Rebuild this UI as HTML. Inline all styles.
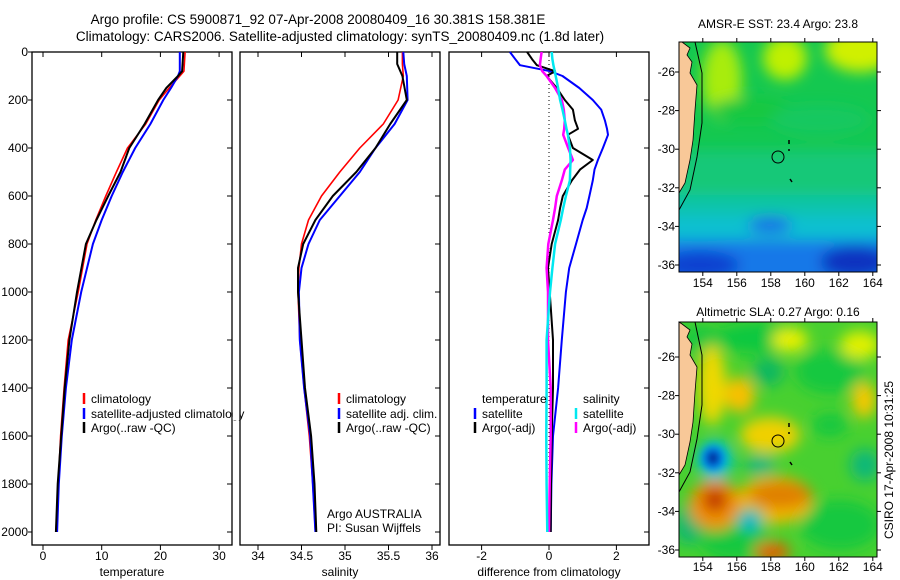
<!DOCTYPE html>
<html><head><meta charset="utf-8"><style>
html,body{margin:0;padding:0;background:#fff;}
svg{display:block;font-family:"Liberation Sans",sans-serif;}
</style></head><body>
<svg id="fig" width="900" height="580" viewBox="0 0 900 580">
<defs>
<filter id="blur6" x="-50%" y="-50%" width="200%" height="200%"><feGaussianBlur stdDeviation="7"/></filter>
<filter id="blur4" x="-50%" y="-50%" width="200%" height="200%"><feGaussianBlur stdDeviation="4"/></filter>
<clipPath id="clipMap1"><rect x="679" y="42" width="198" height="230"/></clipPath>
<clipPath id="clipMap2"><rect x="679" y="322" width="198" height="235"/></clipPath>
</defs>
<text x="318" y="24" font-size="13.5" text-anchor="middle">Argo profile: CS 5900871_92 07-Apr-2008 20080409_16 30.381S 158.381E</text>
<text x="340" y="41" font-size="13.5" text-anchor="middle">Climatology: CARS2006. Satellite-adjusted climatology: synTS_20080409.nc (1.8d later)</text>
<g id="panels"></g>

<!-- SST map -->
<g>
<text x="778" y="28" font-size="12" text-anchor="middle">AMSR-E SST: 23.4 Argo: 23.8</text>
<g clip-path="url(#clipMap1)">
<rect x="660" y="20" width="240" height="270" fill="#14c850"/>
<g filter="url(#blur6)">
<rect x="650" y="150" width="260" height="150" fill="#14c878"/>
<rect x="650" y="195" width="260" height="110" fill="#10c4a8"/>
<rect x="650" y="215" width="260" height="90" fill="#08c0d0"/>
<rect x="650" y="240" width="260" height="60" fill="#1878e8"/>
<ellipse cx="700" cy="265" rx="40" ry="14" fill="#0a40d0"/>
<ellipse cx="855" cy="262" rx="35" ry="16" fill="#0a30c0"/>
<ellipse cx="770" cy="225" rx="22" ry="8" fill="#1a6ce8"/>
<ellipse cx="722" cy="80" rx="20" ry="40" fill="#a8ec10"/>
<ellipse cx="785" cy="58" rx="22" ry="22" fill="#c0f000"/>
<ellipse cx="860" cy="50" rx="35" ry="22" fill="#d0f000"/>
<ellipse cx="750" cy="110" rx="40" ry="12" fill="#18c840"/>
<ellipse cx="820" cy="120" rx="50" ry="15" fill="#14c860"/>
</g>
</g>
<path d="M679,42 L682,42 L690,48 L687,55 L692,62 L690,73 L697,85 L695,110 L693,140 L690,160 L685,183 L679,193 Z" fill="#f8c898" stroke="#000" stroke-width="0.8"/>
<path d="M695,42 L702,73 L702,123 L697,157 L690,190 L679,210" fill="none" stroke="#000" stroke-width="1"/>
<circle cx="778" cy="157" r="6" fill="none" stroke="#000" stroke-width="1"/>
<path d="M789,140 l0,4 M789,149 l0,2 M790,179 l2,3" stroke="#000" stroke-width="1.5"/>
<rect x="679" y="42" width="198" height="230" fill="none" stroke="#000"/>
<g id="map1axes"></g>
</g>

<!-- SLA map -->
<g>
<text x="778" y="316" font-size="12" text-anchor="middle">Altimetric SLA: 0.27 Argo: 0.16</text>
<g clip-path="url(#clipMap2)">
<rect x="660" y="300" width="240" height="280" fill="#48d030"/>
<g filter="url(#blur6)">
<ellipse cx="760" cy="338" rx="45" ry="16" fill="#10c840"/>
<ellipse cx="768" cy="372" rx="16" ry="14" fill="#10b860"/>
<ellipse cx="830" cy="372" rx="35" ry="22" fill="#14c840"/>
<ellipse cx="830" cy="425" rx="18" ry="12" fill="#18c840"/>
<ellipse cx="865" cy="465" rx="15" ry="16" fill="#10b878"/>
<ellipse cx="840" cy="525" rx="40" ry="25" fill="#18c840"/>
<ellipse cx="735" cy="540" rx="35" ry="20" fill="#18c840"/>
<ellipse cx="688" cy="525" rx="14" ry="20" fill="#10b870"/>
<ellipse cx="700" cy="340" rx="20" ry="14" fill="#18c840"/>
<ellipse cx="790" cy="340" rx="18" ry="12" fill="#e8f000"/>
<ellipse cx="860" cy="345" rx="20" ry="14" fill="#e0f000"/>
<ellipse cx="712" cy="385" rx="14" ry="40" fill="#f0d800"/>
<ellipse cx="740" cy="395" rx="15" ry="18" fill="#f8c000"/>
<ellipse cx="770" cy="435" rx="30" ry="18" fill="#f0d000"/>
<ellipse cx="864" cy="400" rx="12" ry="18" fill="#f8c800"/>
<ellipse cx="775" cy="500" rx="38" ry="24" fill="#f0b800"/>
<ellipse cx="715" cy="505" rx="26" ry="25" fill="#f09000"/>
<ellipse cx="715" cy="500" rx="12" ry="12" fill="#c03000"/>
<ellipse cx="780" cy="495" rx="32" ry="14" fill="#e08000"/>
<ellipse cx="772" cy="552" rx="18" ry="10" fill="#e06000"/>
<ellipse cx="750" cy="520" rx="14" ry="12" fill="#10c8a0"/>
<ellipse cx="750" cy="522" rx="6" ry="6" fill="#00a0e8"/>
<ellipse cx="760" cy="465" rx="15" ry="10" fill="#10b880"/>
<ellipse cx="715" cy="460" rx="18" ry="20" fill="#00c0d0"/>
</g>
<g filter="url(#blur4)">
<ellipse cx="713" cy="458" rx="11" ry="12" fill="#0080f0"/>
<ellipse cx="713" cy="458" rx="6" ry="7" fill="#001890"/>
</g>
</g>
<g transform="translate(0,282)">
<path d="M679,40 L682,42 L690,48 L687,55 L692,62 L690,73 L697,85 L695,110 L693,140 L690,160 L685,183 L679,193 Z" fill="#f8c898" stroke="#000" stroke-width="0.8"/>
<path d="M695,40 L702,73 L702,123 L697,157 L690,190 L679,210" fill="none" stroke="#000" stroke-width="1"/>
</g>
<circle cx="778" cy="441" r="6" fill="none" stroke="#000" stroke-width="1"/>
<path d="M789,423 l0,4 M789,432 l0,2 M790,462 l2,3" stroke="#000" stroke-width="1.5"/>
<rect x="679" y="322" width="198" height="235" fill="none" stroke="#000"/>
<g id="map2axes"></g>
</g>
<text x="0" y="0" font-size="12" text-anchor="middle" transform="translate(893,460) rotate(-90)">CSIRO 17-Apr-2008 10:31:25</text>
</svg>
<script>
// ---- Data ----
var depthTicks = [0,200,400,600,800,1000,1200,1400,1600,1800,2000];
var tempTicks = [0,10,20,30];
var salTicks = [34,34.5,35,35.5,36];
var salTickLabels = ["34","34.5","35","35.5","36"];
var diffTicks = [-2,0,2];

var tDepth = [0,80,100,150,200,300,400,500,600,700,800,1000,1200,1400,1600,1800,2000];
var tClim  = [24.2,24.0,23.3,21.5,19.8,17.5,14.4,12.5,10.7,9.0,7.5,6.0,4.3,3.6,3.0,2.6,2.2];
var tSat   = [23.3,23.3,23.0,21.8,20.5,18.3,15.7,13.6,11.7,10.0,8.5,6.5,4.9,3.9,3.2,2.7,2.4];
var tArgo  = [23.9,23.7,23.0,21.0,19.6,17.3,14.7,13.2,11.1,9.1,7.3,5.8,4.5,3.7,3.1,2.5,2.2];

var sDepth = [0,50,100,200,300,400,500,600,700,800,900,1000,1200,1400,1600,1800,2000];
var sClim  = [35.66,35.66,35.67,35.61,35.44,35.17,34.94,34.73,34.58,34.50,34.47,34.46,34.48,34.53,34.59,34.63,34.66];
var sSat   = [35.67,35.68,35.71,35.72,35.57,35.35,35.17,34.94,34.71,34.58,34.50,34.47,34.48,34.53,34.60,34.63,34.66];
var sArgo  = [35.60,35.60,35.66,35.71,35.52,35.35,35.13,34.86,34.66,34.52,34.46,34.46,34.50,34.54,34.61,34.65,34.67];

var dDepth = [0,30,55,80,100,150,200,240,285,320,345,400,450,490,535,600,650,700,800,900,1000,1200,1400,1600,1800,2000];
var tSatD  = [-1.16,-1.0,-0.86,0.03,0.4,0.9,1.3,1.55,1.66,1.72,1.75,1.6,1.45,1.35,1.3,1.2,1.12,1.0,0.8,0.6,0.5,0.38,0.27,0.12,0.07,0.05];
var tArgoD = [-0.65,-0.5,-0.36,0.18,-0.07,0.23,0.47,0.71,0.77,0.86,0.56,0.71,1.3,0.92,0.68,0.41,0.33,0.27,0.08,-0.03,0.02,0.12,0.12,0.08,0.06,0.05];
var sSatD  = [0.08,0.1,0.13,0.17,0.2,0.27,0.33,0.4,0.47,0.52,0.56,0.62,0.64,0.63,0.62,0.5,0.42,0.35,0.18,0.1,0.03,-0.07,-0.07,-0.08,-0.07,-0.05];
var sArgoD = [-0.22,-0.25,-0.27,-0.2,-0.07,0.18,0.38,0.44,0.47,0.45,0.42,0.57,0.71,0.47,0.38,0.23,0.18,0.12,-0.02,-0.07,-0.03,-0.03,0.05,0.05,0.02,0.0];

var lonTicks = [154,156,158,160,162,164];
var latTicks = [-26,-28,-30,-32,-34,-36];

// ---- Drawing ----
var NS = "http://www.w3.org/2000/svg";
var root = document.getElementById('panels');
function mk(tag, attrs, parent){ var e=document.createElementNS(NS,tag); for(var k in attrs) e.setAttribute(k,attrs[k]); (parent||root).appendChild(e); return e; }
function yD(d){ return 52 + d*0.24; }
var TOP=52, BOT=545;
function panel(x0,x1,xfn,ticks,labels,xlabel,name,leftLabels){
  var g = mk('g',{});
  
  
  var r = mk('rect',{x:x0,y:TOP,width:x1-x0,height:BOT-TOP,fill:'none',stroke:'#000','stroke-width':1.3},g);
  
  
  ticks.forEach(function(v,i){
    var x = xfn(v);
    mk('line',{x1:x,y1:TOP,x2:x,y2:TOP+5,stroke:'#000'},g);
    mk('line',{x1:x,y1:BOT,x2:x,y2:BOT+5,stroke:'#000'},g);
    var t = mk('text',{x:x,y:560,'font-size':12,'text-anchor':'middle'},g);
    t.textContent = labels[i];
    
    
  });
  depthTicks.forEach(function(d){
    var y=yD(d);
    mk('line',{x1:x1,y1:y,x2:x1-5,y2:y,stroke:'#000'},g);
    if(leftLabels){
      mk('line',{x1:x0,y1:y,x2:x0-4,y2:y,stroke:'#000'},g);
      var t = mk('text',{x:x0-4,y:y+4,'font-size':12,'text-anchor':'end'},g);
      t.textContent = d;
      
      
    }
  });
  var xl = mk('text',{x:(x0+x1)/2,y:576,'font-size':12,'text-anchor':'middle'},g);
  xl.textContent = xlabel;
  
  
  return g;
}
function line(g,depths,vals,xfn,color,w,name){
  var pts = depths.map(function(d,i){ return xfn(vals[i]).toFixed(1)+','+yD(d).toFixed(1); }).join(' ');
  var p = mk('polyline',{points:pts,fill:'none',stroke:color,'stroke-width':w,'stroke-linejoin':'round'},g);
  
  
}
function legend(g,x,y,color,label,name){
  mk('line',{x1:x,y1:y-10,x2:x,y2:y+1,stroke:color,'stroke-width':2.5},g);
  var t = mk('text',{x:x+7,y:y,'font-size':12},g);
  t.textContent = label;
  
  
}
function txt(g,x,y,s,name,anchor){
  var t = mk('text',{x:x,y:y,'font-size':12,'text-anchor':anchor||'start'},g);
  t.textContent=s;
  
  
}

// Temperature panel
var xT = function(v){ return 43 + v*5.87; };
var g1 = panel(32,232,xT,tempTicks,tempTicks.map(String),'temperature','temperature-panel',true);
line(g1,tDepth,tClim,xT,'#ff0000',1.6,'temperature-climatology-line');
line(g1,tDepth,tSat,xT,'#0000ff',2,'temperature-satellite-line');
line(g1,tDepth,tArgo,xT,'#000000',2,'temperature-argo-line');
legend(g1,84,403,'#ff0000','climatology','legend-climatology');
legend(g1,84,418,'#0000ff','satellite-adjusted climatology','legend-satellite-adjusted');
legend(g1,84,432,'#000000','Argo(..raw -QC)','legend-argo-raw');
mk('rect',{x:232.7,y:390,width:8,height:30,fill:'#fff'},g1);

// Salinity panel
var xS = function(v){ return 258 + (v-34)*87; };
var g2 = panel(240,440,xS,salTicks,salTickLabels,'salinity','salinity-panel',false);
line(g2,sDepth,sClim,xS,'#ff0000',1.6,'salinity-climatology-line');
line(g2,sDepth,sSat,xS,'#0000ff',2,'salinity-satellite-line');
line(g2,sDepth,sArgo,xS,'#000000',2,'salinity-argo-line');
legend(g2,339,403,'#ff0000','climatology','legend-climatology-sal');
legend(g2,339,418,'#0000ff','satellite adj. clim.','legend-satellite-sal');
legend(g2,339,432,'#000000','Argo(..raw -QC)','legend-argo-sal');
txt(g2,327,518,'Argo AUSTRALIA','argo-australia-label');
txt(g2,327,532,'PI: Susan Wijffels','pi-label');

// Difference panel
var xDf = function(v){ return 549 + v*33.7; };
var g3 = panel(449,649,xDf,diffTicks,diffTicks.map(String),'difference from climatology','difference-panel',false);
mk('line',{x1:xDf(0),y1:TOP,x2:xDf(0),y2:yD(2000),stroke:'#000','stroke-dasharray':'1,3'},g3);
line(g3,dDepth,tSatD,xDf,'#0000ff',2,'diff-temp-satellite-line');
line(g3,dDepth,tArgoD,xDf,'#000000',2,'diff-temp-argo-line');
line(g3,dDepth,sArgoD,xDf,'#ff00ff',2.5,'diff-sal-argo-line');
line(g3,dDepth,sSatD,xDf,'#00e8f0',2.5,'diff-sal-satellite-line');
txt(g3,482,403,'temperature','legend-temperature-heading');
txt(g3,583,403,'salinity','legend-salinity-heading');
legend(g3,475,418,'#0000ff','satellite','legend-temp-satellite');
legend(g3,475,432,'#000000','Argo(-adj)','legend-temp-argo');
legend(g3,576,418,'#00e8f0','satellite','legend-sal-satellite');
legend(g3,576,432,'#ff00ff','Argo(-adj)','legend-sal-argo');

// Map axes
function mapAxes(id,top,bot,lat26,lat36,xlabY){
  var g=document.getElementById(id);
  var xL=function(lon){ return 679 + (lon-152.6)*17; };
  var yL=function(lat){ return lat26 + (-26-lat)*(lat36-lat26)/10; };
  lonTicks.forEach(function(l){
    var x=xL(l);
    mk('line',{x1:x,y1:top,x2:x,y2:top-4,stroke:'#000'},g);
    mk('line',{x1:x,y1:bot,x2:x,y2:bot+4,stroke:'#000'},g);
    var t=mk('text',{x:x,y:xlabY,'font-size':12,'text-anchor':'middle'},g);
    t.textContent=l;
    
    
  });
  latTicks.forEach(function(l){
    var y=yL(l);
    mk('line',{x1:679,y1:y,x2:675,y2:y,stroke:'#000'},g);
    mk('line',{x1:877,y1:y,x2:881,y2:y,stroke:'#000'},g);
    var t=mk('text',{x:675,y:y+4,'font-size':12,'text-anchor':'end'},g);
    t.textContent=l;
    
    
  });
}
mapAxes('map1axes',42,272,72,265,287);
mapAxes('map2axes',322,557,357,550,571);
</script>
</body></html>
